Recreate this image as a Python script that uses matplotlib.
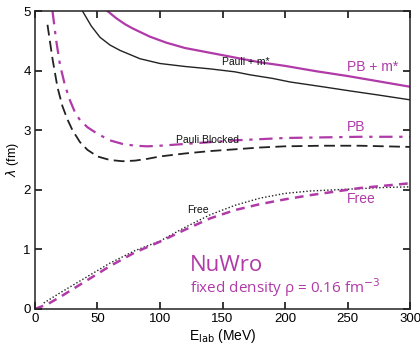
import matplotlib
matplotlib.use("Agg")
import matplotlib.pyplot as plt

MAG = "#b03aa8"

# Pauli + m* (black solid)
e_pm = [38, 45, 52, 60, 68, 84, 100, 120, 140, 160, 172, 190, 204, 230, 252, 275, 300]
l_pm = [5.0, 4.75, 4.56, 4.43, 4.34, 4.2, 4.12, 4.07, 4.03, 3.98, 3.93, 3.87, 3.81, 3.73, 3.66, 3.59, 3.51]

# PB + m* (NuWro, magenta solid)
e_pbm = [58, 65, 72, 78, 86, 92, 105, 120, 140, 160, 180, 200, 225, 250, 275, 300]
l_pbm = [5.0, 4.88, 4.78, 4.71, 4.63, 4.57, 4.47, 4.38, 4.30, 4.22, 4.14, 4.08, 3.99, 3.91, 3.82, 3.73]

# Pauli Blocked (black dashed)
e_pb = [10, 14, 18, 22, 26, 30, 36, 42, 50, 60, 70, 80, 90, 100, 120, 140, 160, 180, 200, 230, 260, 300]
l_pb = [4.77, 4.2, 3.72, 3.4, 3.18, 3.0, 2.8, 2.67, 2.56, 2.50, 2.48, 2.49, 2.52, 2.56, 2.61, 2.65, 2.68, 2.71, 2.73, 2.74, 2.74, 2.72]

# PB (NuWro, magenta dash-dot)
e_pbn = [14, 17, 20, 24, 28, 32, 36, 42, 50, 60, 70, 80, 90, 100, 120, 140, 160, 180, 200, 230, 260, 300]
l_pbn = [5.0, 4.5, 4.1, 3.75, 3.5, 3.3, 3.17, 3.05, 2.94, 2.83, 2.77, 2.74, 2.73, 2.74, 2.77, 2.80, 2.83, 2.85, 2.87, 2.88, 2.89, 2.89]

# Free (black dotted)
e_fr = [7, 20, 40, 60, 80, 100, 120, 140, 160, 180, 200, 220, 240, 260, 280, 300]
l_fr = [0.1, 0.27, 0.52, 0.77, 0.98, 1.14, 1.37, 1.58, 1.74, 1.86, 1.94, 1.98, 2.00, 2.02, 2.04, 2.05]

# Free (NuWro, magenta dashed)
e_frn = [0, 10, 20, 40, 60, 80, 100, 120, 140, 160, 180, 200, 220, 240, 260, 280, 300]
l_frn = [0.0, 0.08, 0.2, 0.46, 0.72, 0.95, 1.13, 1.33, 1.52, 1.66, 1.76, 1.84, 1.91, 1.97, 2.03, 2.07, 2.11]

x_ticks = [0, 50, 100, 150, 200, 250, 300]
y_ticks = [0, 1, 2, 3, 4, 5]

plt.rcParams["font.family"] = ["Liberation Sans", "DejaVu Sans"]

fig = plt.figure(figsize=(4.2, 3.46), dpi=100)
ax = fig.add_axes([0.0833, 0.107, 0.893, 0.861])

ax.plot(e_pm, l_pm, color="#222222", lw=1.0)
ax.plot(e_pbm, l_pbm, color=MAG, lw=1.6)
ax.plot(e_pb, l_pb, color="#222222", lw=1.3, dashes=(6, 3))
ax.plot(e_pbn, l_pbn, color=MAG, lw=1.6, dashes=(6, 3, 1.5, 3))
ax.plot(e_fr, l_fr, color="#222222", lw=1.0, dashes=(1, 1.5))
ax.plot(e_frn, l_frn, color=MAG, lw=1.8, dashes=(3.5, 2.5))

ax.set_xlim(0, 300)
ax.set_ylim(0, 5)
ax.set_xticks(x_ticks)
ax.set_yticks(y_ticks)
ax.tick_params(direction="in", top=True, right=True, length=5, width=1.1,
               labelsize=9.5, pad=3)
for s in ax.spines.values():
    s.set_linewidth(1.1)
    s.set_color("#222222")

ax.set_xlabel(r"E$_{\rm lab}$ (MeV)", fontsize=10, labelpad=1)
ax.set_ylabel(r"$\lambda$ (fm)", fontsize=9, labelpad=2)

ax.text(169, 4.15, "Pauli + m*", fontsize=7.5, ha="center", va="center", color="#111111")
ax.text(270, 4.06, "PB + m*", fontsize=10, ha="center", va="center", color=MAG)
ax.text(138, 2.84, "Pauli Blocked", fontsize=7.5, ha="center", va="center", color="#111111")
ax.text(257, 3.05, "PB", fontsize=10, ha="center", va="center", color=MAG)
ax.text(130, 1.66, "Free", fontsize=7.5, ha="center", va="center", color="#111111")
ax.text(261, 1.85, "Free", fontsize=10, ha="center", va="center", color=MAG)

ax.text(0.412, 0.128, "NuWro", transform=ax.transAxes, fontsize=16,
        color=MAG, family=["Open Sans", "DejaVu Sans"], ha="left", va="baseline")
ax.text(0.412, 0.053, r"fixed density ρ = 0.16 fm$^{-3}$", transform=ax.transAxes,
        fontsize=11, color=MAG, family=["Open Sans", "DejaVu Sans"],
        ha="left", va="baseline")

fig.savefig("out.png", dpi=100)
